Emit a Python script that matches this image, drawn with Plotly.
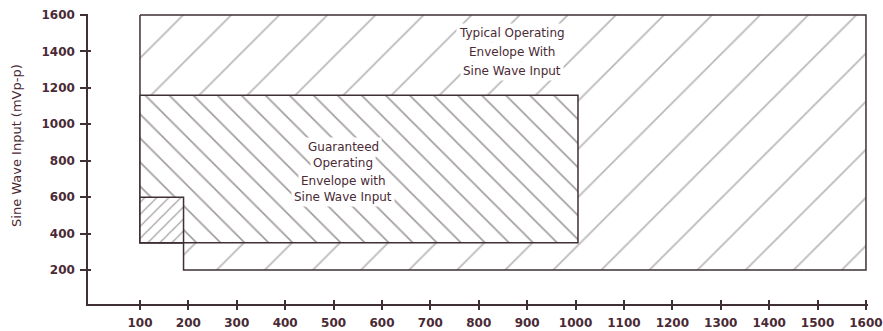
import plotly.graph_objects as go

# ---- data ----
x_ticks = [100, 200, 300, 400, 500, 600, 700, 800, 900, 1000, 1100, 1200, 1300, 1400, 1500, 1600]
y_ticks = [200, 400, 600, 800, 1000, 1200, 1400, 1600]

typical_x = [100, 1600, 1600, 190, 190, 100, 100]
typical_y = [1600, 1600, 200, 200, 350, 350, 1600]

guaranteed_x = [100, 1005, 1005, 100, 100]
guaranteed_y = [1160, 1160, 350, 350, 1160]

small_x = [100, 190, 190, 100, 100]
small_y = [600, 600, 350, 350, 600]

typical_label = ["Typical Operating", "Envelope With", "Sine Wave Input"]
guaranteed_label = ["Guaranteed", "Operating", "Envelope with", "Sine Wave Input"]
y_title = "Sine Wave Input (mVp-p)"

TXT = "#4a2a35"
EDGE = "#3e3034"
FONT = "DejaVu Sans"

fig = go.Figure()

fig.add_trace(go.Scatter(
    x=typical_x, y=typical_y, mode="lines", fill="toself",
    fillcolor="white", line=dict(color=EDGE, width=1.5),
    fillpattern=dict(shape="/", size=34, solidity=0.05, fgcolor="#767072", bgcolor="white"),
    hoverinfo="skip", showlegend=False))

fig.add_trace(go.Scatter(
    x=guaranteed_x, y=guaranteed_y, mode="lines", fill="toself",
    fillcolor="white", line=dict(color=EDGE, width=1.5),
    fillpattern=dict(shape="\\", size=17, solidity=0.1, fgcolor="#463a3e", bgcolor="white"),
    hoverinfo="skip", showlegend=False))

fig.add_trace(go.Scatter(
    x=small_x, y=small_y, mode="lines", fill="toself",
    fillcolor="white", line=dict(color=EDGE, width=1.5),
    fillpattern=dict(shape="/", size=8.5, solidity=0.15, fgcolor="#4e4246", bgcolor="white"),
    hoverinfo="skip", showlegend=False))

# invisible trace on overlay axes (for crossing ticks)
fig.add_trace(go.Scatter(x=[x_ticks[0]], y=[y_ticks[0]], mode="markers",
                         marker=dict(opacity=0), xaxis="x2", yaxis="y2",
                         hoverinfo="skip", showlegend=False))

xr = [-7.4, 1604.2]
yr = [13.3, 1605.5]

tickfont = dict(family=FONT, size=12, color=TXT, weight="bold")

fig.update_layout(
    width=883, height=331,
    margin=dict(l=88, r=15, t=14, b=27, autoexpand=False),
    paper_bgcolor="white", plot_bgcolor="white",
    font=dict(family=FONT, color=TXT),
    xaxis=dict(range=xr, tickvals=x_ticks, ticktext=[str(v) for v in x_ticks],
               showgrid=False, zeroline=False, showline=True, linecolor=EDGE, linewidth=1.5,
               ticks="outside", ticklen=4, tickwidth=1.5, tickcolor=EDGE, automargin=False,
               tickfont=tickfont, ticklabelstandoff=3),
    yaxis=dict(range=yr, tickvals=y_ticks, ticktext=[str(v) for v in y_ticks],
               showgrid=False, zeroline=False, showline=True, linecolor=EDGE, linewidth=1.5,
               ticks="outside", ticklen=6, tickwidth=1.5, tickcolor=EDGE, automargin=False,
               tickfont=tickfont, ticklabelstandoff=3),
    xaxis2=dict(range=xr, overlaying="x", anchor="y2", tickvals=x_ticks,
                showticklabels=False, showgrid=False, zeroline=False, showline=False,
                ticks="inside", ticklen=4, tickwidth=1.5, tickcolor=EDGE, automargin=False),
    yaxis2=dict(range=yr, overlaying="y", anchor="x2", tickvals=y_ticks,
                showticklabels=False, showgrid=False, zeroline=False, showline=False,
                ticks="inside", ticklen=3, tickwidth=1.5, tickcolor=EDGE, automargin=False),
)

annos = []
for txt, yy in zip(typical_label, [1500, 1397, 1295]):
    annos.append(dict(x=868, y=yy, xref="x", yref="y", text=txt, showarrow=False,
                      font=dict(family=FONT, size=12, color=TXT),
                      bgcolor="white", borderpad=2))
for txt, yy in zip(guaranteed_label, [878, 786, 688, 600]):
    annos.append(dict(x=520, y=yy, xref="x", yref="y", text=txt, showarrow=False,
                      font=dict(family=FONT, size=12, color=TXT),
                      bgcolor="white", borderpad=2))
annos.append(dict(x=-0.091, y=0.545, xref="paper", yref="paper", text=y_title,
                  textangle=-90, showarrow=False, xanchor="center", yanchor="middle",
                  font=dict(family=FONT, size=13, color=TXT)))
fig.update_layout(annotations=annos)

fig.write_html("out.html", config={"displayModeBar": False},
               post_script="document.body.style.margin='0';document.body.style.overflow='hidden';")
